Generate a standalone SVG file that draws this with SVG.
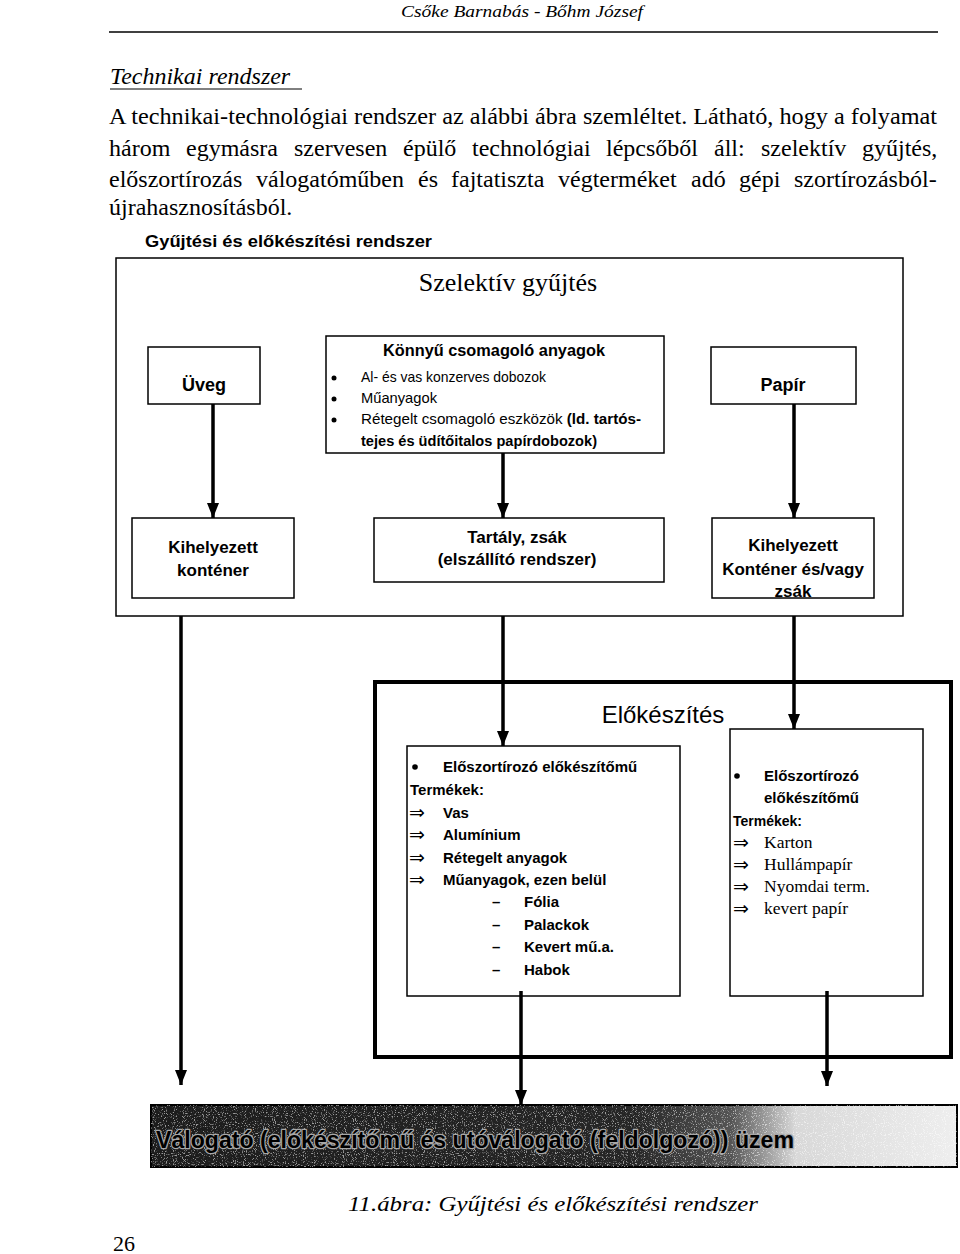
<svg xmlns="http://www.w3.org/2000/svg" width="960" height="1254" viewBox="0 0 960 1254">
<style>
.serif{font-family:'Liberation Serif','Times New Roman',serif;fill:#000}
.sans{font-family:'Liberation Sans',Arial,sans-serif;fill:#000}
.b{font-weight:bold}
.it{font-style:italic}
.box{fill:#fff;stroke:#000;stroke-width:1.5}
.thick{fill:none;stroke:#000;stroke-width:4}
.conn{fill:none;stroke:#000;stroke-width:3.5;marker-end:url(#ah)}
.arr{font-family:'DejaVu Sans',sans-serif;font-size:19px}
</style>
<defs>
<marker id="ah" viewBox="0 0 15 12" refX="15" refY="6" markerWidth="15" markerHeight="12" markerUnits="userSpaceOnUse" orient="auto">
<path d="M0,0 L15,6 L0,12 Z" fill="#000"/>
</marker>
<linearGradient id="barg" x1="0" y1="0" x2="1" y2="0">
<stop offset="0" stop-color="#1c1c1c"/>
<stop offset="0.6" stop-color="#262626"/>
<stop offset="0.72" stop-color="#555"/>
<stop offset="0.8" stop-color="#d8d8d8"/>
<stop offset="1" stop-color="#eeeeee"/>
</linearGradient>
<filter id="speck" x="0" y="0" width="1" height="1">
<feTurbulence type="fractalNoise" baseFrequency="0.9" numOctaves="1" seed="4" result="n"/>
<feColorMatrix in="n" type="matrix" values="0 0 0 0 1 0 0 0 0 1 0 0 0 0 1 7 0 0 0 -3.9" result="w"/>
<feComposite in="w" in2="SourceGraphic" operator="in"/>
</filter>
</defs>

<!-- page header and text -->
<g id="page-header">
<text class="serif it" x="522" y="17" font-size="17" text-anchor="middle" textLength="242" lengthAdjust="spacingAndGlyphs">Csőke Barnabás - Bőhm József</text>
<line x1="109" y1="32" x2="938" y2="32" stroke="#000" stroke-width="1.5"/>
<text class="serif it" x="110" y="84" font-size="24">Technikai rendszer</text>
<line x1="110" y1="89" x2="302" y2="89" stroke="#000" stroke-width="1"/>
<text class="serif" x="109" y="124" font-size="24" textLength="828" lengthAdjust="spacingAndGlyphs">A technikai-technológiai rendszer az alábbi ábra szemléltet. Látható, hogy a folyamat</text>
<text class="serif" y="156" font-size="24"><tspan x="109">három</tspan><tspan x="186">egymásra</tspan><tspan x="294">szervesen</tspan><tspan x="403">épülő</tspan><tspan x="472">technológiai</tspan><tspan x="606">lépcsőből</tspan><tspan x="714">áll:</tspan><tspan x="761">szelektív</tspan><tspan x="862">gyűjtés,</tspan></text>
<text class="serif" y="187" font-size="24"><tspan x="109">előszortírozás</tspan><tspan x="256">válogatóműben</tspan><tspan x="418">és</tspan><tspan x="451">fajtatiszta</tspan><tspan x="558">végterméket</tspan><tspan x="691">adó</tspan><tspan x="739">gépi</tspan><tspan x="794">szortírozásból-</tspan></text>
<text class="serif" x="109" y="215" font-size="24">újrahasznosításból.</text>
<text class="sans b" x="145" y="247" font-size="17" textLength="287" lengthAdjust="spacingAndGlyphs">Gyűjtési és előkészítési rendszer</text>
</g>

<!-- Szelektív gyűjtés frame -->
<g id="szelektiv-gyujtes">
<rect x="116" y="258" width="787" height="358" fill="none" stroke="#000" stroke-width="1.5"/>
<text class="serif" x="508" y="291" font-size="26" text-anchor="middle">Szelektív gyűjtés</text>
</g>

<g id="uveg">
<rect class="box" x="148" y="347" width="112" height="57"/>
<text class="sans b" x="204" y="391" font-size="18" text-anchor="middle">Üveg</text>
</g>

<g id="konnyu">
<rect class="box" x="326" y="336" width="338" height="117"/>
<text class="sans b" x="494" y="356" font-size="17" text-anchor="middle" textLength="222" lengthAdjust="spacingAndGlyphs">Könnyű csomagoló anyagok</text>
<circle cx="334" cy="378" r="2.5"/>
<circle cx="334" cy="399" r="2.5"/>
<circle cx="334" cy="420" r="2.5"/>
<text class="sans" x="361" y="382" font-size="15" textLength="185" lengthAdjust="spacingAndGlyphs">Al- és vas konzerves dobozok</text>
<text class="sans" x="361" y="403" font-size="15" textLength="76" lengthAdjust="spacingAndGlyphs">Műanyagok</text>
<text class="sans" x="361" y="424" font-size="15" textLength="280" lengthAdjust="spacingAndGlyphs">Rétegelt csomagoló eszközök <tspan class="b">(ld. tartós-</tspan></text>
<text class="sans b" x="361" y="446" font-size="15" textLength="236" lengthAdjust="spacingAndGlyphs">tejes és üdítőitalos papírdobozok)</text>
</g>

<g id="papir">
<rect class="box" x="711" y="347" width="145" height="57"/>
<text class="sans b" x="783" y="391" font-size="18" text-anchor="middle">Papír</text>
</g>

<g id="kihelyezett-kontener">
<rect class="box" x="132" y="518" width="162" height="80"/>
<text class="sans b" x="213" y="553" font-size="17" text-anchor="middle">Kihelyezett</text>
<text class="sans b" x="213" y="576" font-size="17" text-anchor="middle">konténer</text>
</g>

<g id="tartaly-zsak">
<rect class="box" x="374" y="518" width="290" height="64"/>
<text class="sans b" x="517" y="543" font-size="17" text-anchor="middle">Tartály, zsák</text>
<text class="sans b" x="517" y="565" font-size="17" text-anchor="middle">(elszállító rendszer)</text>
</g>

<g id="kihelyezett-kontener-zsak">
<rect class="box" x="712" y="518" width="162" height="80"/>
<text class="sans b" x="793" y="551" font-size="17" text-anchor="middle">Kihelyezett</text>
<text class="sans b" x="793" y="575" font-size="17" text-anchor="middle">Konténer és/vagy</text>
<text class="sans b" x="793" y="597" font-size="17" text-anchor="middle">zsák</text>
</g>

<!-- Előkészítés frame -->
<g id="elokeszites">
<rect class="thick" x="375" y="682" width="576" height="375"/>
<text class="sans" x="663" y="723" font-size="24" text-anchor="middle">Előkészítés</text>
</g>

<g id="eloszortirozo-1">
<rect class="box" x="407" y="746" width="273" height="250"/>
<circle cx="415" cy="767" r="2.8"/>
<text class="sans b" x="443" y="772" font-size="15">Előszortírozó előkészítőmű</text>
<text class="sans b" x="410" y="795" font-size="15">Termékek:</text>
<text class="arr" x="409" y="819">⇒</text><text class="sans b" x="443" y="818" font-size="15">Vas</text>
<text class="arr" x="409" y="841">⇒</text><text class="sans b" x="443" y="840" font-size="15">Alumínium</text>
<text class="arr" x="409" y="864">⇒</text><text class="sans b" x="443" y="863" font-size="15">Rétegelt anyagok</text>
<text class="arr" x="409" y="886">⇒</text><text class="sans b" x="443" y="885" font-size="15">Műanyagok, ezen belül</text>
<text class="sans b" x="492" y="907" font-size="15">–</text><text class="sans b" x="524" y="907" font-size="15">Fólia</text>
<text class="sans b" x="492" y="930" font-size="15">–</text><text class="sans b" x="524" y="930" font-size="15">Palackok</text>
<text class="sans b" x="492" y="952" font-size="15">–</text><text class="sans b" x="524" y="952" font-size="15">Kevert mű.a.</text>
<text class="sans b" x="492" y="975" font-size="15">–</text><text class="sans b" x="524" y="975" font-size="15">Habok</text>
</g>

<g id="eloszortirozo-2">
<rect class="box" x="730" y="729" width="193" height="267"/>
<circle cx="737" cy="776" r="2.8"/>
<text class="sans b" x="764" y="781" font-size="15">Előszortírozó</text>
<text class="sans b" x="764" y="803" font-size="15">előkészítőmű</text>
<text class="sans b" x="733" y="826" font-size="14">Termékek:</text>
<text class="arr" x="733" y="849">⇒</text><text class="serif" x="764" y="848" font-size="17.5">Karton</text>
<text class="arr" x="733" y="871">⇒</text><text class="serif" x="764" y="870" font-size="17.5">Hullámpapír</text>
<text class="arr" x="733" y="893">⇒</text><text class="serif" x="764" y="892" font-size="17.5">Nyomdai term.</text>
<text class="arr" x="733" y="915">⇒</text><text class="serif" x="764" y="914" font-size="17.5">kevert papír</text>
</g>

<!-- Üzem bar -->
<g id="uzem">
<rect x="151" y="1105" width="806" height="62" fill="url(#barg)" stroke="#000" stroke-width="2"/>
<rect x="151" y="1105" width="806" height="62" fill="#fff" filter="url(#speck)" opacity="0.55"/>
<text class="sans b" x="156" y="1148" font-size="24" textLength="638" lengthAdjust="spacingAndGlyphs" fill="none" stroke="#a8a8a8" stroke-width="2.5" stroke-linejoin="round">Válogató (előkészítőmű és utóválogató (feldolgozó)) üzem</text>
<text class="sans b" x="156" y="1148" font-size="24" textLength="638" lengthAdjust="spacingAndGlyphs" fill="#000">Válogató (előkészítőmű és utóválogató (feldolgozó)) üzem</text>
</g>

<!-- connectors -->
<g id="connectors">
<line class="conn" x1="213" y1="404" x2="213" y2="518"/>
<line class="conn" x1="503" y1="453" x2="503" y2="518"/>
<line class="conn" x1="794" y1="404" x2="794" y2="518"/>
<line class="conn" x1="181" y1="616" x2="181" y2="1085"/>
<line class="conn" x1="503" y1="616" x2="503" y2="746"/>
<line class="conn" x1="794" y1="616" x2="794" y2="729"/>
<line class="conn" x1="521" y1="991" x2="521" y2="1105"/>
<line class="conn" x1="827" y1="991" x2="827" y2="1086"/>
</g>

<g id="caption">
<text class="serif it" x="553" y="1211" font-size="22" text-anchor="middle" textLength="410" lengthAdjust="spacingAndGlyphs">11.ábra: Gyűjtési és előkészítési rendszer</text>
<text class="serif" x="113" y="1251" font-size="22">26</text>
</g>
</svg>
